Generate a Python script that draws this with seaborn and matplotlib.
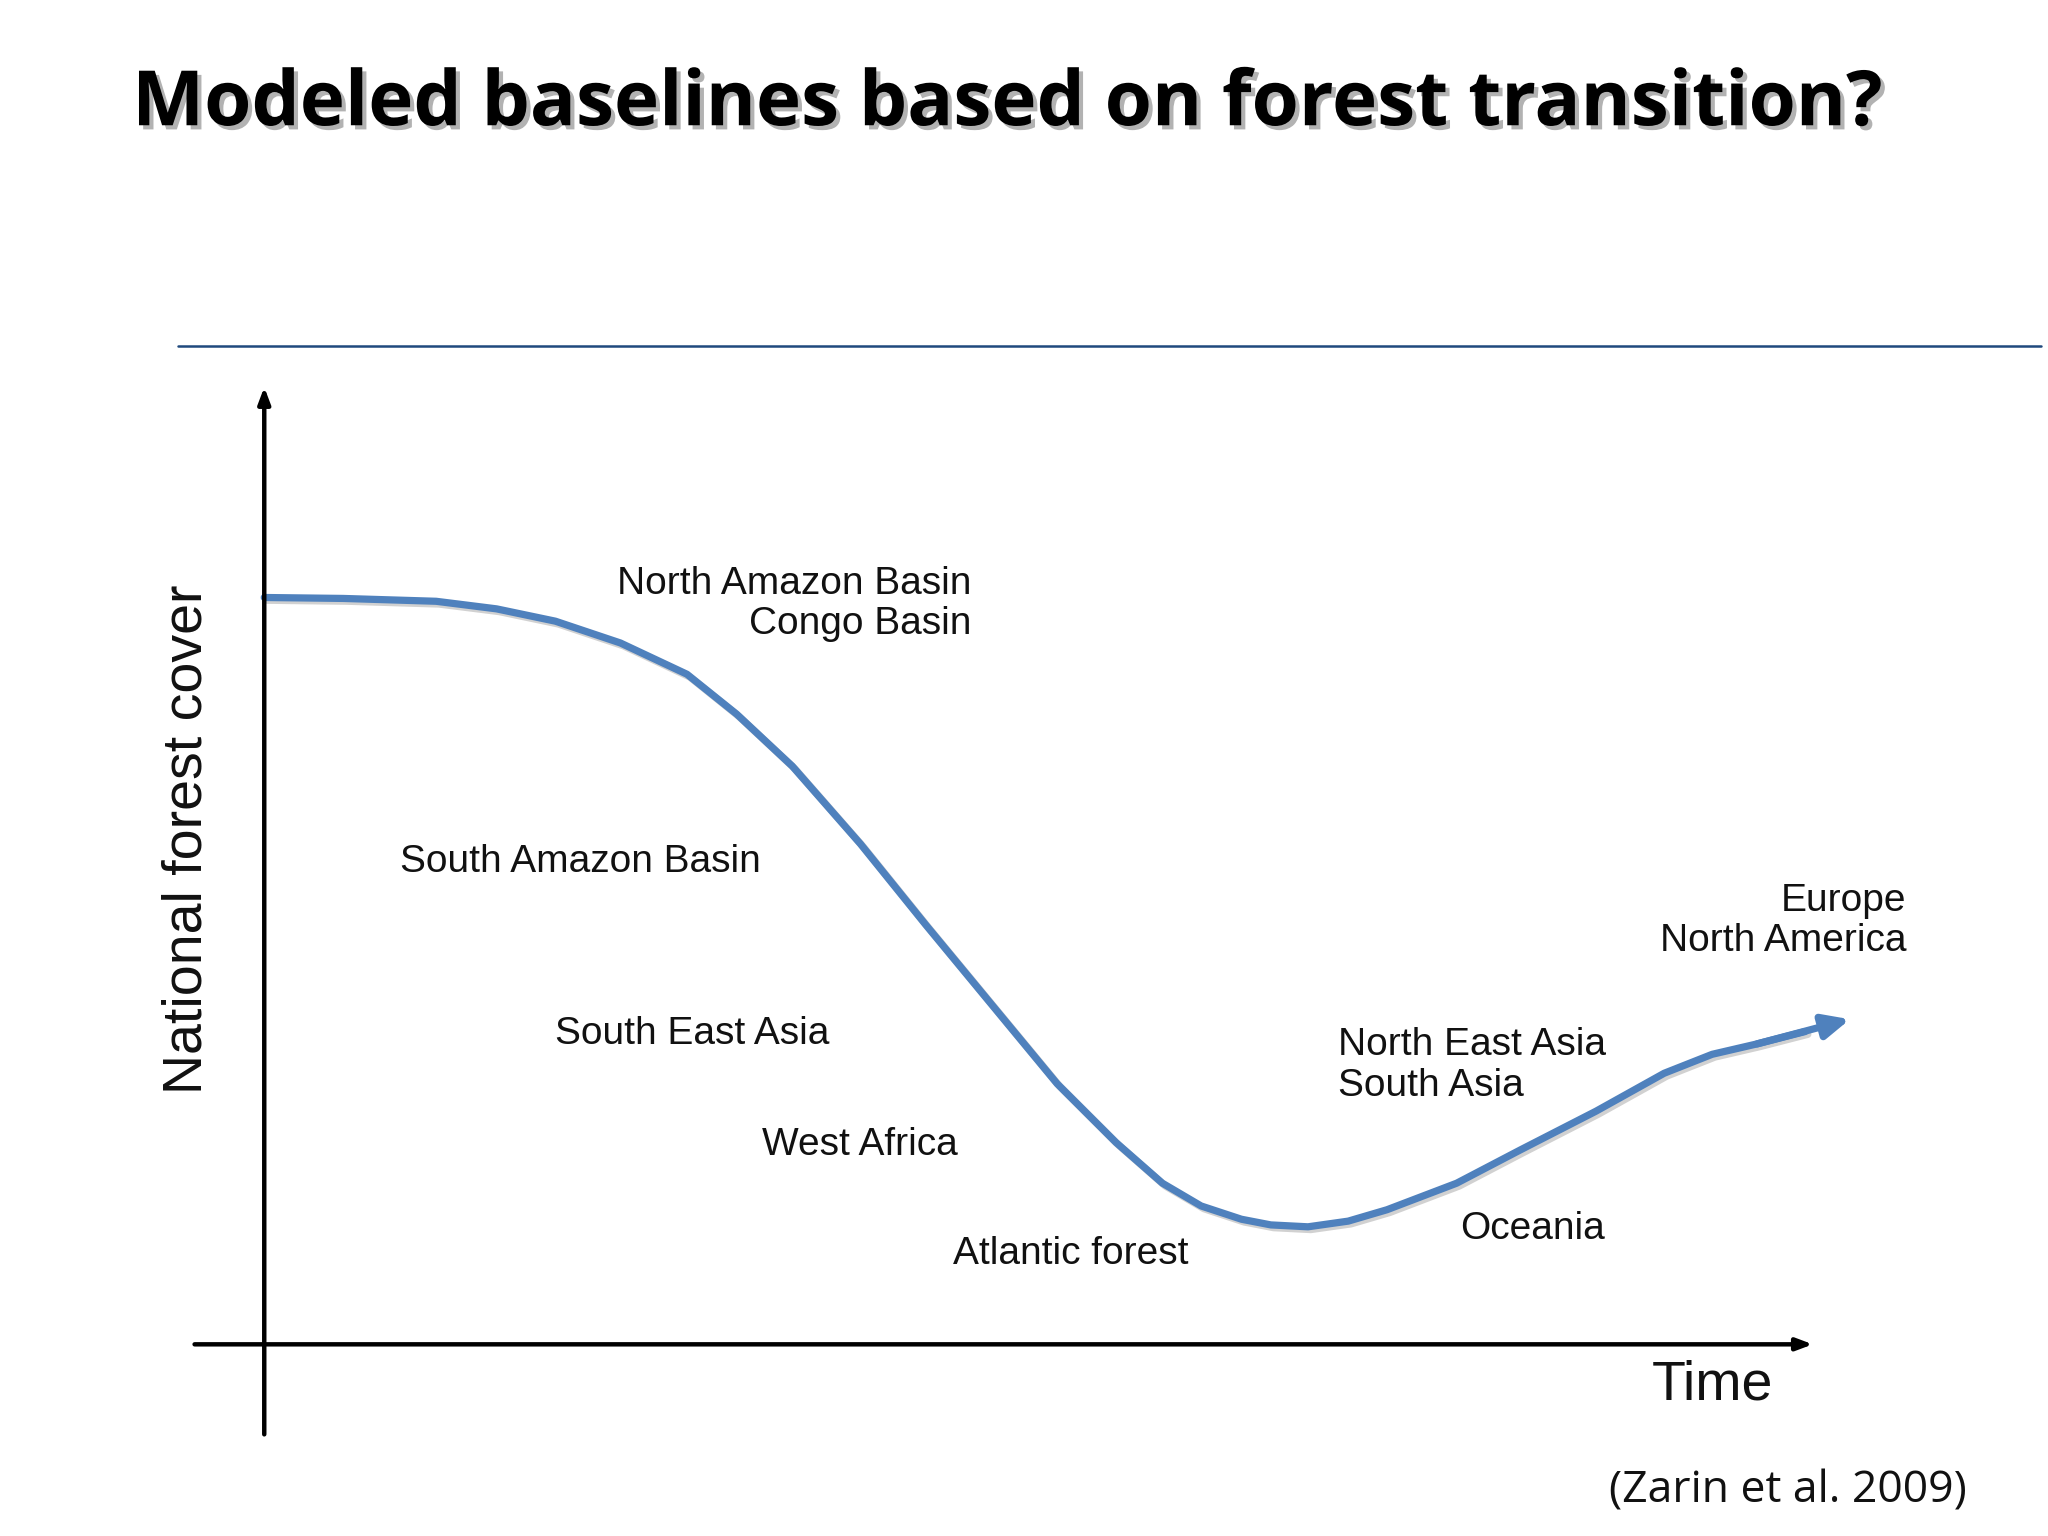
import matplotlib
matplotlib.use("Agg")
import matplotlib.pyplot as plt
import matplotlib.patheffects as pe
import seaborn as sns
import pandas as pd

sns.set_theme(style="white")
plt.rcParams['font.family'] = ['Liberation Sans', 'DejaVu Sans']

# Data (time 0-100, cover 0-100 relative to axis origin)
time = [0, 5.1, 11.1, 15.0, 18.8, 23.0, 27.3, 30.5, 34.1, 38.5, 42.7, 47.0, 51.2, 55.0, 58.0, 60.5, 63.1, 65.0, 67.4, 70.0, 72.5, 77.0, 81.1, 86.0, 90.4, 93.5, 96.4, 99.5, 102.4]
cover = [78.8, 78.7, 78.4, 77.6, 76.3, 74.0, 70.7, 66.5, 61.0, 52.8, 44.3, 35.8, 27.5, 21.3, 17.0, 14.6, 13.2, 12.6, 12.4, 13.0, 14.2, 17.0, 20.5, 24.6, 28.6, 30.6, 31.7, 33.0, 34.3]
labels = [
    ("North Amazon Basin\nCongo Basin", 735, 457, "right"),
    ("South Amazon Basin", 303, 652, "left"),
    ("South East Asia", 420, 782, "left"),
    ("West Africa", 577, 866, "left"),
    ("Atlantic forest", 721, 949, "left"),
    ("North East Asia\nSouth Asia", 1013, 806, "left"),
    ("Oceania", 1105, 930, "left"),
    ("Europe\nNorth America", 1443, 697, "right"),
]

W, H = 1550, 1162
fig = plt.figure(figsize=(20.48, 15.36), dpi=100)
fig.patch.set_facecolor("white")
ax = fig.add_axes([200 / W, (H - 1017) / H, 1172 / W, 717 / H])
ax.set_xlim(0, 100)
ax.set_ylim(0, 100)
ax.axis("off")

df = pd.DataFrame({"time": time[:-1], "cover": cover[:-1]})
color = "#4F81BD"
shadow = [pe.SimpleLineShadow(offset=(2, -2), alpha=0.2), pe.Normal()]
sns.lineplot(data=df, x="time", y="cover", ax=ax, color=color, lw=5.2,
             sort=False, estimator=None, path_effects=shadow)
for a in ax.lines:
    a.set_clip_on(False)
    a.set_solid_joinstyle("round")
ax.annotate("", xy=(time[-1], cover[-1]), xytext=(time[-3], cover[-3]),
            arrowprops=dict(arrowstyle="-|>,head_length=1.3,head_width=0.6",
                            color=color, lw=5.2, shrinkA=0, shrinkB=0),
            annotation_clip=False)

# axes arrows
ax.annotate("", xy=(0, 101), xytext=(0, -9.5),
            arrowprops=dict(arrowstyle="-|>,head_length=0.8,head_width=0.3", color="black", lw=3.2, shrinkA=0, shrinkB=0),
            annotation_clip=False)
ax.annotate("", xy=(100, 0), xytext=(-4.5, 0),
            arrowprops=dict(arrowstyle="-|>,head_length=0.8,head_width=0.3", color="black", lw=3.2, shrinkA=0, shrinkB=0),
            annotation_clip=False)

for txt, px, py, ha in labels:
    fig.text(px / W, 1 - py / H, txt, ha=ha, va="center", fontsize=28,
             linespacing=1.15, color="#111111")

fig.text(1250 / W, 1 - 1048 / H, "Time", ha="left", va="center", fontsize=40, color="#111111")
fig.text(142 / W, 1 - 635 / H, "National forest cover", ha="center", va="center",
         rotation=90, fontsize=40, color="#111111")
fig.text(1218 / W, 1 - 1128 / H, "(Zarin et al. 2009)", ha="left", va="center",
         fontsize=32, family=["Open Sans", "DejaVu Sans"], color="#111111")

fig.text(100 / W, 1 - 80 / H, "Modeled baselines based on forest transition?", ha="left",
         va="center", fontsize=55, fontweight="bold", color="black",
         family=["Open Sans", "DejaVu Sans"],
         path_effects=[pe.withSimplePatchShadow(offset=(3, -3), alpha=0.3)])

fig.add_artist(plt.Line2D([135 / W, 1545 / W], [1 - 262 / H] * 2, color="#1F497D", lw=1.8))

fig.savefig("out.png", dpi=100, facecolor="white")
